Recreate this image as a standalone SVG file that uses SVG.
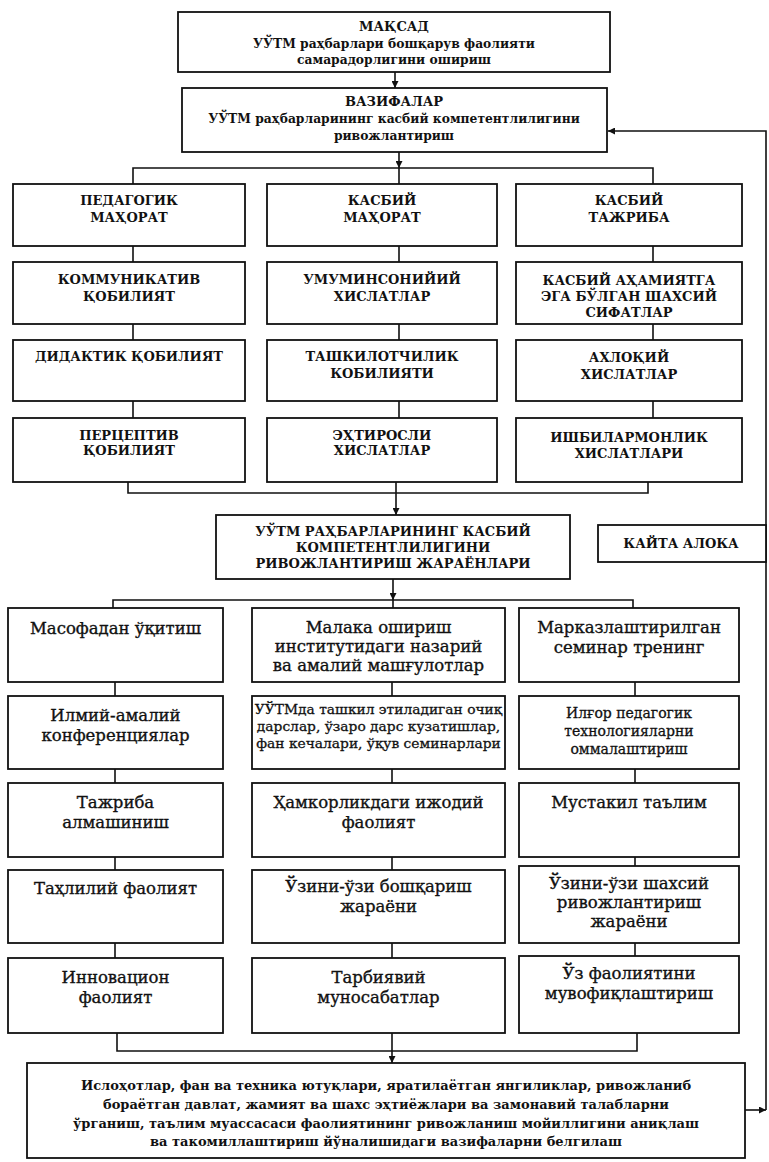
<svg xmlns="http://www.w3.org/2000/svg" width="769" height="1162" viewBox="0 0 769 1162">
<defs>
<style>
.box{fill:#fff;stroke:#111;stroke-width:1.8}
.ln{fill:none;stroke:#111;stroke-width:1.6}
text{fill:#111;text-anchor:middle;font-family:"DejaVu Serif","Liberation Serif",serif}
.h{font-size:13px;font-weight:bold}
.t{font-size:12.3px;font-weight:bold}
.g{font-size:16.5px;stroke:#111;stroke-width:0.35}
.m{font-size:14px;stroke:#111;stroke-width:0.3}
.s{font-size:13.8px;stroke:#111;stroke-width:0.3}
.b{font-size:13px;font-weight:bold}
</style>
<marker id="ar" viewBox="0 0 10 10" refX="10" refY="5" markerWidth="7" markerHeight="7" orient="auto" markerUnits="userSpaceOnUse">
<path d="M0 0 L10 5 L0 10 z" fill="#111"/>
</marker>
</defs>
<rect width="769" height="1162" fill="#fff"/>

<g id="connectors">
<path class="ln" d="M395 72 V88" marker-end="url(#ar)"/>
<path class="ln" d="M399 152 V168" marker-end="url(#ar)"/>
<path class="ln" d="M133 184 V168 H653 V184 M399 168 V184"/>
<path class="ln" d="M133 246 V262 M133 324 V340 M133 401 V418"/>
<path class="ln" d="M399 246 V262 M399 324 V340 M399 401 V418"/>
<path class="ln" d="M653 246 V262 M653 324 V340 M653 401 V418"/>
<path class="ln" d="M128 482 V493 H648 V482 M396 482 V493"/>
<path class="ln" d="M396 493 V515" marker-end="url(#ar)"/>
<path class="ln" d="M393 579 V600" marker-end="url(#ar)"/>
<path class="ln" d="M113 608 V600 H633 V608 M393 600 V608"/>
<path class="ln" d="M115 682 V696 M115 769 V783 M115 857 V870 M115 943 V958"/>
<path class="ln" d="M392 682 V696 M392 769 V783 M392 857 V870 M392 943 V958"/>
<path class="ln" d="M635 682 V696 M635 769 V783 M635 857 V866 M635 943 V956"/>
<path class="ln" d="M117 1033 V1051 H637 V1033 M392 1033 V1051"/>
<path class="ln" d="M392 1051 V1063" marker-end="url(#ar)"/>
<path class="ln" d="M745 1110 H766" marker-end="url(#ar)"/>
<path class="ln" d="M766 1110 V131 H608" marker-end="url(#ar)"/>
</g>

<g id="maqsad">
<rect class="box" x="178" y="12" width="432" height="60"/>
<text class="h" x="394" y="31">МАҚСАД</text>
<text class="t" x="394" y="48">УЎТМ раҳбарлари бошқарув фаолияти</text>
<text class="t" x="394" y="64">самарадорлигини ошириш</text>
</g>

<g id="vazifalar">
<rect class="box" x="182" y="88" width="425" height="64"/>
<text class="h" x="394" y="106">ВАЗИФАЛАР</text>
<text class="t" x="394" y="123">УЎТМ раҳбарларининг касбий компетентлилигини</text>
<text class="t" x="394" y="140">ривожлантириш</text>
</g>

<g id="ped-mahorat">
<rect class="box" x="13" y="184" width="232" height="62"/>
<text class="h" x="129" y="205">ПЕДАГОГИК</text>
<text class="h" x="129" y="222">МАҲОРАТ</text>
</g>
<g id="kasb-mahorat">
<rect class="box" x="267" y="184" width="230" height="62"/>
<text class="h" x="382" y="205">КАСБИЙ</text>
<text class="h" x="382" y="222">МАҲОРАТ</text>
</g>
<g id="kasb-tajriba">
<rect class="box" x="516" y="184" width="226" height="62"/>
<text class="h" x="629" y="205">КАСБИЙ</text>
<text class="h" x="629" y="222">ТАЖРИБА</text>
</g>

<g id="kommunikativ">
<rect class="box" x="13" y="262" width="232" height="62"/>
<text class="h" x="129" y="284">КОММУНИКАТИВ</text>
<text class="h" x="129" y="301">ҚОБИЛИЯТ</text>
</g>
<g id="umuminsoniy">
<rect class="box" x="267" y="262" width="230" height="62"/>
<text class="h" x="382" y="284">УМУМИНСОНИЙИЙ</text>
<text class="h" x="382" y="301">ХИСЛАТЛАР</text>
</g>
<g id="shaxsiy-sifatlar">
<rect class="box" x="516" y="262" width="226" height="62"/>
<text class="h" x="629" y="285">КАСБИЙ АҲАМИЯТГА</text>
<text class="h" x="629" y="301">ЭГА БЎЛГАН ШАХСИЙ</text>
<text class="h" x="629" y="317">СИФАТЛАР</text>
</g>

<g id="didaktik">
<rect class="box" x="13" y="340" width="232" height="61"/>
<text class="h" x="129" y="361">ДИДАКТИК ҚОБИЛИЯТ</text>
</g>
<g id="tashkilotchilik">
<rect class="box" x="267" y="340" width="230" height="61"/>
<text class="h" x="382" y="361">ТАШКИЛОТЧИЛИК</text>
<text class="h" x="382" y="378">КОБИЛИЯТИ</text>
</g>
<g id="axloqiy">
<rect class="box" x="516" y="340" width="226" height="61"/>
<text class="h" x="629" y="362">АХЛОҚИЙ</text>
<text class="h" x="629" y="379">ХИСЛАТЛАР</text>
</g>

<g id="perseptiv">
<rect class="box" x="13" y="418" width="232" height="64"/>
<text class="h" x="129" y="440">ПЕРЦЕПТИВ</text>
<text class="h" x="129" y="455">ҚОБИЛИЯТ</text>
</g>
<g id="ehtirosli">
<rect class="box" x="267" y="418" width="230" height="64"/>
<text class="h" x="382" y="440">ЭҲТИРОСЛИ</text>
<text class="h" x="382" y="455">ХИСЛАТЛАР</text>
</g>
<g id="ishbilarmonlik">
<rect class="box" x="516" y="418" width="226" height="64"/>
<text class="h" x="629" y="442">ИШБИЛАРМОНЛИК</text>
<text class="h" x="629" y="458">ХИСЛАТЛАРИ</text>
</g>

<g id="jarayonlar">
<rect class="box" x="216" y="515" width="354" height="64"/>
<text class="h" x="393" y="536">УЎТМ РАҲБАРЛАРИНИНГ КАСБИЙ</text>
<text class="h" x="393" y="552">КОМПЕТЕНТЛИЛИГИНИ</text>
<text class="h" x="393" y="568">РИВОЖЛАНТИРИШ ЖАРАЁНЛАРИ</text>
</g>

<g id="qayta-aloqa">
<rect class="box" x="598" y="525" width="168" height="37"/>
<text class="h" x="681" y="548">КАЙТА АЛОКА</text>
</g>

<g id="masofadan">
<rect class="box" x="8" y="608" width="215" height="74"/>
<text class="g" x="115.5" y="634">Масофадан ўқитиш</text>
</g>
<g id="malaka">
<rect class="box" x="252" y="608" width="253" height="74"/>
<text class="g" x="378.5" y="633">Малака ошириш</text>
<text class="g" x="378.5" y="652">институтидаги назарий</text>
<text class="g" x="378.5" y="671">ва амалий машғулотлар</text>
</g>
<g id="markazlashtirilgan">
<rect class="box" x="519" y="608" width="220" height="74"/>
<text class="g" x="629" y="633">Марказлаштирилган</text>
<text class="g" x="629" y="653">семинар тренинг</text>
</g>

<g id="ilmiy-amaliy">
<rect class="box" x="8" y="696" width="215" height="73"/>
<text class="g" x="115.5" y="721">Илмий-амалий</text>
<text class="g" x="115.5" y="741">конференциялар</text>
</g>
<g id="ochiq-darslar">
<rect class="box" x="252" y="696" width="253" height="73"/>
<text class="s" x="378.5" y="714">УЎТМда ташкил этиладиган очиқ</text>
<text class="s" x="378.5" y="731">дарслар, ўзаро дарс кузатишлар,</text>
<text class="s" x="378.5" y="748">фан кечалари, ўқув семинарлари</text>
</g>
<g id="ilgor">
<rect class="box" x="519" y="696" width="220" height="73"/>
<text class="m" x="629" y="718">Илғор педагогик</text>
<text class="m" x="629" y="736">технологияларни</text>
<text class="m" x="629" y="754">оммалаштириш</text>
</g>

<g id="tajriba">
<rect class="box" x="8" y="783" width="215" height="74"/>
<text class="g" x="115.5" y="808">Тажриба</text>
<text class="g" x="115.5" y="828">алмашиниш</text>
</g>
<g id="hamkorlik">
<rect class="box" x="252" y="783" width="253" height="74"/>
<text class="g" x="378.5" y="808">Ҳамкорликдаги ижодий</text>
<text class="g" x="378.5" y="828">фаолият</text>
</g>
<g id="mustaqil">
<rect class="box" x="519" y="783" width="220" height="74"/>
<text class="g" x="629" y="808">Мустакил таълим</text>
</g>

<g id="tahliliy">
<rect class="box" x="8" y="870" width="215" height="73"/>
<text class="g" x="115.5" y="894">Таҳлилий фаолият</text>
</g>
<g id="ozini-boshqarish">
<rect class="box" x="252" y="870" width="253" height="73"/>
<text class="g" x="378.5" y="892">Ўзини-ўзи бошқариш</text>
<text class="g" x="378.5" y="912">жараёни</text>
</g>
<g id="ozini-rivojlantirish">
<rect class="box" x="519" y="866" width="220" height="77"/>
<text class="g" x="629" y="889">Ўзини-ўзи шахсий</text>
<text class="g" x="629" y="908">ривожлантириш</text>
<text class="g" x="629" y="927">жараёни</text>
</g>

<g id="innovatsion">
<rect class="box" x="8" y="958" width="215" height="75"/>
<text class="g" x="115.5" y="983">Инновацион</text>
<text class="g" x="115.5" y="1003">фаолият</text>
</g>
<g id="tarbiyaviy">
<rect class="box" x="252" y="958" width="253" height="75"/>
<text class="g" x="378.5" y="983">Тарбиявий</text>
<text class="g" x="378.5" y="1003">муносабатлар</text>
</g>
<g id="muvofiqlashtirish">
<rect class="box" x="519" y="956" width="220" height="77"/>
<text class="g" x="629" y="979">Ўз фаолиятини</text>
<text class="g" x="629" y="999">мувофиқлаштириш</text>
</g>

<g id="islohotlar">
<rect class="box" x="27" y="1063" width="718" height="95"/>
<text class="b" x="386" y="1090">Ислоҳотлар, фан ва техника ютуқлари, яратилаётган янгиликлар, ривожланиб</text>
<text class="b" x="386" y="1109">бораётган давлат, жамият ва шахс эҳтиёжлари ва замонавий талабларни</text>
<text class="b" x="386" y="1128">ўрганиш, таълим муассасаси фаолиятининг ривожланиш мойиллигини аниқлаш</text>
<text class="b" x="386" y="1146">ва такомиллаштириш йўналишидаги вазифаларни белгилаш</text>
</g>
</svg>
